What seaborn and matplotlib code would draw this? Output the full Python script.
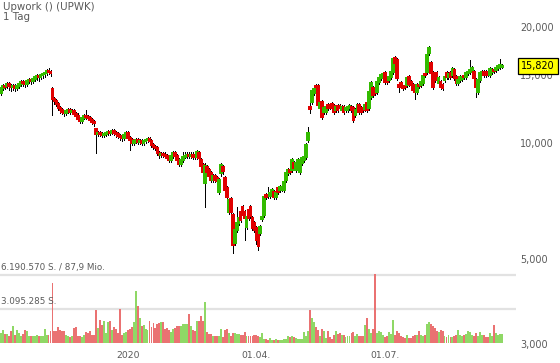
import numpy as np
import pandas as pd
import matplotlib
matplotlib.use("Agg")
import matplotlib.pyplot as plt
import matplotlib.transforms as mtransforms
from matplotlib.ticker import FixedLocator, NullLocator
import seaborn as sns

# ====== DATA (EUR, Tageskerzen) ======
dates = pd.bdate_range("2019-10-03", periods=254)

open_ = [
    13.48, 13.89, 14.06, 14.06, 14.23, 14.06, 13.98, 14.06, 13.89, 14.06,
    14.23, 14.40, 14.32, 14.23, 14.49, 14.58, 14.49, 14.66, 14.84, 14.93,
    14.84, 15.02, 15.11, 15.20, 15.38, 15.29, 13.81, 13.01, 12.85, 12.63,
    12.33, 12.18, 12.03, 11.96, 12.11, 12.18, 12.03, 12.11, 11.89, 11.75,
    11.54, 11.40, 11.61, 11.75, 11.68, 11.61, 11.47, 11.34, 10.87, 10.55,
    10.62, 10.55, 10.49, 10.55, 10.62, 10.68, 10.62, 10.74, 10.62, 10.55,
    10.43, 10.36, 10.30, 10.49, 10.62, 10.30, 10.18, 10.00, 10.12, 10.18,
    10.06, 10.12, 10.00, 10.12, 10.18, 10.24, 10.12, 9.88, 9.76, 9.70,
    9.42, 9.31, 9.36, 9.31, 9.25, 9.14, 9.03, 9.25, 9.42, 9.25,
    9.03, 8.82, 9.03, 9.20, 9.25, 9.31, 9.25, 9.31, 9.25, 9.20,
    9.42, 9.03, 8.77, 7.87, 8.66, 8.51, 8.36, 8.01, 8.21, 8.11,
    7.46, 8.36, 8.66, 8.11, 7.64, 6.62, 7.15, 6.50, 5.50, 5.94,
    6.20, 6.62, 6.82, 6.62, 6.05, 6.70, 6.82, 6.39, 6.20, 6.01,
    5.87, 5.84, 6.35, 6.50, 7.33, 7.33, 7.28, 7.41, 7.46, 7.24,
    7.64, 7.55, 7.59, 7.55, 8.01, 8.36, 8.51, 8.51, 8.87, 8.51,
    8.66, 8.41, 8.87, 9.03, 9.20, 10.18, 12.40, 12.78, 13.48, 14.06,
    14.06, 12.33, 12.78, 12.03, 12.03, 12.55, 12.48, 12.63, 12.48, 12.18,
    12.48, 12.48, 12.18, 12.40, 12.18, 12.18, 12.33, 12.40, 12.33, 11.82,
    12.18, 12.55, 12.33, 12.33, 12.25, 12.70, 12.33, 13.16, 13.89, 13.73,
    13.56, 14.40, 14.75, 14.84, 15.20, 14.75, 14.58, 14.84, 15.29, 16.62,
    16.43, 14.15, 14.32, 13.98, 14.06, 14.15, 14.84, 14.40, 14.15, 13.65,
    13.56, 14.15, 14.15, 14.32, 15.11, 15.29, 17.13, 16.13, 15.20, 15.02,
    15.20, 14.32, 14.40, 14.15, 14.58, 15.20, 14.84, 15.20, 15.02, 15.47,
    14.84, 14.32, 14.58, 14.66, 14.93, 14.84, 15.20, 15.29, 15.47, 15.29,
    14.58, 13.56, 14.58, 15.20, 15.29, 15.29, 15.20, 15.02, 15.29, 15.47,
    15.47, 15.66, 15.75, 15.76,
]

high_ = [
    14.06, 14.23, 14.23, 14.40, 14.40, 14.23, 14.23, 14.23, 14.23, 14.40,
    14.58, 14.58, 14.49, 14.66, 14.75, 14.75, 14.84, 15.02, 15.11, 15.11,
    15.20, 15.29, 15.38, 15.56, 15.66, 15.47, 13.98, 13.16, 13.01, 12.78,
    12.48, 12.33, 12.18, 12.25, 12.33, 12.33, 12.25, 12.25, 12.03, 11.96,
    11.68, 11.75, 11.89, 12.18, 11.82, 11.75, 11.61, 11.47, 10.94, 10.74,
    10.74, 10.68, 10.68, 10.74, 10.81, 10.81, 10.87, 10.87, 10.74, 10.68,
    10.55, 10.49, 10.62, 10.74, 10.74, 10.43, 10.30, 10.24, 10.30, 10.30,
    10.24, 10.24, 10.24, 10.30, 10.36, 10.36, 10.24, 10.00, 9.88, 9.82,
    9.53, 9.48, 9.48, 9.48, 9.36, 9.25, 9.36, 9.53, 9.53, 9.36,
    9.14, 9.14, 9.48, 9.48, 9.48, 9.48, 9.48, 9.48, 9.36, 9.59,
    9.53, 9.14, 8.87, 8.87, 8.77, 8.61, 8.46, 8.31, 8.31, 8.21,
    8.11, 8.87, 8.77, 8.21, 7.73, 7.20, 7.24, 6.58, 6.01, 6.82,
    6.46, 6.70, 6.90, 6.70, 6.50, 6.78, 6.90, 6.46, 6.27, 6.09,
    5.94, 6.12, 6.50, 7.33, 7.41, 7.68, 7.50, 7.64, 7.55, 7.50,
    7.73, 7.78, 7.78, 8.01, 8.46, 8.61, 8.61, 9.14, 8.98, 8.98,
    9.14, 8.93, 9.25, 9.31, 10.00, 11.00, 13.16, 13.81, 13.98, 14.23,
    14.23, 12.85, 12.93, 12.48, 12.55, 12.70, 12.63, 12.78, 12.63, 12.55,
    12.63, 12.63, 12.55, 12.55, 12.48, 12.55, 12.63, 12.55, 12.48, 12.33,
    12.70, 12.70, 12.48, 12.48, 12.70, 12.85, 13.73, 14.49, 14.06, 13.89,
    14.58, 14.93, 15.20, 15.29, 15.38, 14.93, 15.02, 15.47, 16.72, 16.82,
    16.62, 14.32, 14.49, 14.15, 14.23, 14.93, 15.02, 14.58, 14.32, 13.81,
    14.32, 14.32, 14.58, 15.11, 16.04, 17.13, 17.86, 16.33, 15.38, 15.20,
    15.38, 14.93, 14.58, 14.32, 15.02, 15.38, 15.29, 15.38, 15.75, 15.66,
    15.02, 14.75, 15.02, 15.02, 15.11, 15.38, 15.47, 16.43, 15.85, 15.47,
    14.75, 14.75, 15.38, 15.47, 15.47, 15.47, 15.38, 15.75, 15.66, 15.66,
    15.85, 16.04, 16.52, 16.04,
]

low_ = [
    13.32, 13.73, 13.81, 13.89, 13.73, 13.65, 13.73, 13.65, 13.73, 13.89,
    14.06, 14.06, 13.98, 14.06, 14.32, 14.23, 14.32, 14.49, 14.58, 14.49,
    14.66, 14.75, 14.84, 15.02, 15.11, 14.93, 11.82, 12.63, 12.48, 12.18,
    11.96, 11.89, 11.75, 11.82, 11.96, 11.89, 11.89, 11.75, 11.61, 11.40,
    11.27, 11.27, 11.54, 11.54, 11.47, 11.34, 11.20, 11.07, 9.42, 10.43,
    10.43, 10.36, 10.36, 10.43, 10.49, 10.49, 10.55, 10.49, 10.36, 10.30,
    10.18, 10.12, 10.18, 10.36, 10.18, 9.59, 9.88, 9.88, 10.00, 9.94,
    9.94, 9.88, 9.88, 10.00, 10.06, 10.00, 9.76, 9.65, 9.59, 9.31,
    9.14, 9.20, 9.20, 9.14, 9.03, 8.93, 8.93, 9.14, 9.14, 8.93,
    8.71, 8.71, 8.93, 9.14, 9.14, 9.14, 9.14, 9.09, 9.09, 9.09,
    9.03, 8.61, 8.31, 6.82, 8.31, 8.11, 7.92, 7.92, 7.92, 7.82,
    7.37, 8.21, 8.31, 7.46, 7.15, 6.54, 6.54, 5.18, 5.43, 5.87,
    6.12, 6.24, 6.39, 5.60, 5.98, 6.31, 6.39, 5.94, 5.87, 5.46,
    5.27, 5.77, 6.27, 6.42, 7.15, 7.20, 7.20, 7.33, 7.15, 7.15,
    7.37, 7.46, 7.50, 7.46, 7.92, 8.26, 8.31, 8.41, 8.51, 8.41,
    8.56, 8.31, 8.77, 8.93, 9.09, 10.06, 11.96, 12.63, 13.32, 13.81,
    12.40, 12.18, 11.54, 11.89, 11.89, 12.18, 12.25, 12.18, 11.89, 12.03,
    12.03, 12.18, 12.03, 11.89, 12.03, 12.03, 12.18, 12.03, 11.34, 11.68,
    12.03, 11.89, 11.89, 12.03, 12.11, 12.03, 12.18, 13.01, 13.16, 13.32,
    13.40, 14.23, 14.58, 14.66, 14.23, 14.23, 14.40, 14.66, 15.11, 15.94,
    14.58, 13.56, 13.89, 13.73, 13.81, 13.98, 14.06, 13.89, 13.56, 13.01,
    13.40, 13.89, 13.98, 14.15, 14.84, 15.11, 16.93, 15.02, 13.81, 14.40,
    14.40, 14.15, 13.81, 13.73, 14.40, 14.66, 14.66, 14.66, 14.84, 14.58,
    14.15, 14.15, 14.40, 14.49, 14.66, 14.66, 15.02, 15.11, 15.29, 14.58,
    13.16, 13.40, 14.40, 15.02, 14.84, 14.84, 14.93, 14.84, 15.11, 15.20,
    15.29, 15.47, 15.56, 15.66,
]

close_ = [
    13.89, 14.06, 13.98, 14.23, 14.06, 13.98, 14.06, 13.89, 14.06, 14.23,
    14.40, 14.32, 14.23, 14.49, 14.58, 14.49, 14.66, 14.84, 14.93, 14.84,
    15.02, 15.11, 15.20, 15.38, 15.29, 15.20, 13.01, 12.85, 12.63, 12.33,
    12.18, 12.03, 11.96, 12.11, 12.18, 12.03, 12.11, 11.89, 11.75, 11.54,
    11.40, 11.61, 11.75, 11.68, 11.61, 11.47, 11.34, 11.27, 10.55, 10.62,
    10.55, 10.49, 10.55, 10.62, 10.68, 10.62, 10.74, 10.62, 10.55, 10.43,
    10.36, 10.30, 10.49, 10.62, 10.30, 10.18, 10.00, 10.12, 10.18, 10.06,
    10.12, 10.00, 10.12, 10.18, 10.24, 10.12, 9.88, 9.76, 9.70, 9.42,
    9.31, 9.36, 9.31, 9.25, 9.14, 9.03, 9.25, 9.42, 9.25, 9.03,
    8.82, 9.03, 9.20, 9.25, 9.31, 9.25, 9.31, 9.20, 9.20, 9.48,
    9.14, 8.71, 8.41, 8.71, 8.41, 8.21, 8.01, 8.21, 8.01, 7.97,
    8.01, 8.77, 8.46, 7.55, 7.24, 7.11, 6.62, 5.43, 5.94, 6.20,
    6.39, 6.31, 6.50, 6.39, 6.42, 6.39, 6.46, 6.01, 5.94, 5.60,
    5.40, 6.05, 6.42, 7.24, 7.24, 7.28, 7.41, 7.55, 7.24, 7.41,
    7.46, 7.68, 7.68, 7.92, 8.36, 8.51, 8.41, 9.03, 8.61, 8.87,
    9.03, 8.82, 9.14, 9.20, 9.88, 10.62, 12.25, 13.65, 13.81, 13.98,
    12.55, 12.70, 11.68, 12.33, 12.40, 12.33, 12.40, 12.33, 12.03, 12.40,
    12.18, 12.33, 12.40, 12.03, 12.33, 12.40, 12.48, 12.18, 11.47, 12.18,
    12.55, 12.03, 12.03, 12.18, 12.55, 12.18, 13.56, 14.32, 13.32, 13.48,
    14.40, 14.75, 15.02, 15.11, 14.40, 14.40, 14.84, 15.29, 16.52, 16.13,
    14.75, 13.98, 14.06, 13.89, 13.98, 14.75, 14.23, 14.15, 13.73, 13.56,
    14.15, 14.06, 14.40, 14.93, 15.02, 16.93, 17.65, 15.20, 13.98, 14.58,
    14.58, 14.75, 13.98, 13.89, 14.84, 14.84, 15.11, 14.84, 15.56, 14.75,
    14.32, 14.58, 14.84, 14.84, 14.84, 15.20, 15.29, 15.47, 15.66, 14.75,
    13.98, 14.58, 15.20, 15.29, 15.02, 15.02, 15.11, 15.56, 15.47, 15.38,
    15.66, 15.85, 15.94, 15.82,
]

# Volumen in Mio. Stück
volume_mio = [
    0.91, 1.21, 0.85, 0.82, 0.67, 1.12, 1.58, 0.76, 1.15, 0.91,
    0.67, 0.85, 1.21, 1.06, 0.67, 0.61, 0.61, 0.67, 0.76, 0.61,
    0.61, 0.67, 1.27, 0.76, 0.76, 1.12, 5.46, 1.12, 1.06, 1.46,
    1.21, 1.12, 1.06, 0.76, 0.61, 0.55, 0.67, 1.36, 1.46, 0.67,
    0.61, 0.55, 0.76, 1.00, 0.91, 1.06, 0.73, 0.72, 3.03, 1.36,
    2.12, 1.67, 1.97, 0.91, 1.88, 2.03, 1.21, 1.46, 1.27, 0.91,
    3.09, 0.76, 0.91, 0.97, 1.21, 1.27, 1.46, 1.88, 4.70, 3.40,
    2.27, 1.58, 1.67, 1.27, 1.21, 2.03, 1.46, 1.82, 1.36, 1.76,
    1.82, 1.88, 1.88, 1.27, 1.36, 1.15, 0.97, 1.27, 1.36, 1.58,
    1.58, 1.52, 1.76, 1.76, 1.76, 2.67, 1.58, 1.21, 1.06, 1.97,
    1.97, 2.49, 1.97, 3.73, 0.97, 0.85, 0.82, 0.67, 0.67, 0.61,
    0.67, 1.27, 0.55, 1.21, 1.27, 0.91, 0.67, 0.91, 0.91, 0.85,
    0.85, 0.76, 0.73, 0.97, 0.67, 0.61, 0.67, 0.61, 0.76, 0.76,
    0.67, 0.55, 0.91, 0.36, 0.36, 0.30, 0.45, 0.30, 0.30, 0.36,
    0.30, 0.30, 0.30, 0.36, 0.36, 0.61, 0.55, 0.67, 0.55, 0.45,
    0.36, 0.36, 0.36, 0.97, 0.67, 1.06, 3.03, 2.27, 1.88, 1.42,
    1.15, 0.67, 1.27, 1.12, 0.45, 1.06, 0.55, 0.36, 0.76, 1.12,
    0.85, 0.91, 0.76, 0.76, 0.55, 0.67, 0.67, 0.91, 0.97, 0.67,
    0.85, 0.67, 0.67, 0.67, 1.67, 2.27, 1.27, 0.91, 1.27, 6.31,
    0.91, 1.06, 0.97, 0.76, 0.55, 0.67, 0.97, 0.85, 2.12, 0.76,
    1.12, 0.91, 0.67, 0.55, 0.45, 0.76, 0.45, 0.45, 0.67, 0.76,
    0.76, 1.12, 0.76, 0.67, 0.76, 1.76, 1.88, 1.76, 1.58, 1.36,
    1.06, 0.97, 1.21, 1.12, 0.67, 0.55, 0.76, 0.55, 0.55, 0.67,
    0.76, 1.21, 0.76, 0.61, 0.76, 0.85, 1.06, 0.97, 0.76, 0.67,
    0.91, 0.67, 0.97, 0.76, 0.76, 0.55, 0.55, 0.91, 0.67, 1.67,
    0.91, 0.76, 0.85, 0.82,
]

price_ticks = [3, 5, 10, 15, 20]
vol_grid = [6.190570, 3.095285]
vol_grid_labels = ["6.190.570 S. / 87,9 Mio.", "3.095.285 S."]
title_lines = ["Upwork () (UPWK)", "1 Tag"]

RED = "#e00000"
GREEN = "#33bb00"
VOL_COLORS = {"up": "#8fd866", "down": "#ea7272", "flat": "#cccccc"}
TEXT = "#5a5a5a"


def de_price(v):
    # 15.82 -> "15,820"
    return f"{v:.3f}".replace(".", ",")


# ====== CHART ======
def plot_chart(out_file="out.png"):
    sns.set_style("white")
    plt.rcParams["font.family"] = ["DejaVu Sans"]

    W, H = 560, 363
    fig = plt.figure(figsize=(W / 100, H / 100), dpi=100)
    fig.patch.set_facecolor("white")

    ax = fig.add_axes([0, (H - 346) / H, 516 / W, 346 / H])
    axv = fig.add_axes([0, (H - 343) / H, 516 / W, 88 / H])
    axv.patch.set_alpha(0)

    o = np.array(open_)
    c = np.array(close_)
    x = np.arange(len(c))
    direction = np.where(c > o, "up", np.where(c < o, "down", "flat"))

    # --- Kerzen ---
    body_col = [GREEN if d == "up" else RED for d in direction]
    ax.vlines(x, low_, high_, color="black", lw=0.7, zorder=2, antialiased=False)
    ax.bar(x, np.abs(c - o), bottom=np.minimum(o, c), width=0.9,
           color=body_col, edgecolor=body_col, linewidth=0.3, zorder=3,
           antialiased=False)

    ax.set_yscale("log")
    ax.set_ylim(10 ** (1 - 203 / 385), 10 ** (1 + 143 / 385))
    ax.set_xlim(-0.505, 260.1)
    ax.yaxis.set_major_locator(FixedLocator(price_ticks))
    ax.yaxis.set_minor_locator(NullLocator())
    ax.set_yticklabels([de_price(v) for v in price_ticks])
    ax.yaxis.tick_right()
    ax.tick_params(axis="y", length=0, pad=3, labelsize=6.9, labelcolor=TEXT)

    # Monatsanfang Jan / Apr / Jul
    tick_idx = [i for i in range(1, len(dates))
                if dates[i].month != dates[i - 1].month and dates[i].month in (1, 4, 7)]
    tick_lab = [str(dates[i].year) if dates[i].month == 1 else dates[i].strftime("%d.%m.")
                for i in tick_idx]
    ax.set_xticks(tick_idx)
    ax.set_xticklabels(tick_lab)
    ax.tick_params(axis="x", length=0, pad=3.5, labelsize=6.7, labelcolor=TEXT)
    ax.grid(False)
    for s in ax.spines.values():
        s.set_visible(False)

    # letzter Kurs
    trans = mtransforms.blended_transform_factory(ax.transAxes, ax.transData)
    ax.text(1 + 5 / 516, close_[-1], de_price(close_[-1]), transform=trans,
            ha="left", va="center", fontsize=6.9, color="black", zorder=10,
            bbox=dict(boxstyle="square,pad=0.3", fc="#ffff00", ec="black", lw=0.9))

    # --- Volumen: ein Bin pro Handelstag, Höhe = Volumen ---
    vol_df = pd.DataFrame({"idx": x, "vol": volume_mio, "dir": direction})
    sns.histplot(data=vol_df, x="idx", weights="vol", hue="dir",
                 hue_order=["down", "up", "flat"], palette=VOL_COLORS,
                 discrete=True, multiple="layer", shrink=0.97,
                 alpha=1, linewidth=0, legend=False, ax=axv)
    for p in axv.patches:
        p.set_antialiased(False)
    axv.set_xlim(-0.505, 260.1)
    axv.set_ylim(0, vol_grid[0] * 88 / 68)
    vtrans = mtransforms.blended_transform_factory(axv.transAxes, axv.transData)
    for g, lab in zip(vol_grid, vol_grid_labels):
        axv.axhline(g, color="#e2e2e2", lw=1.6, zorder=0)
        axv.annotate(lab, xy=(0, g), xycoords=vtrans,
                     xytext=(1, 2), textcoords="offset points", ha="left", va="bottom",
                     fontsize=6.3, color=TEXT, zorder=5)
    axv.set_xlabel("")
    axv.set_ylabel("")
    axv.set_xticks([])
    axv.set_yticks([])
    for s in axv.spines.values():
        s.set_visible(False)

    # --- Titel ---
    fig.text(3 / W, 1 - 2 / H, title_lines[0], ha="left", va="top", fontsize=7.4, color=TEXT)
    fig.text(3 / W, 1 - 12 / H, title_lines[1], ha="left", va="top", fontsize=7.4, color=TEXT)

    fig.savefig(out_file, dpi=100)
    plt.close(fig)


# ====== RUN ======
if __name__ == "__main__":
    plot_chart()
